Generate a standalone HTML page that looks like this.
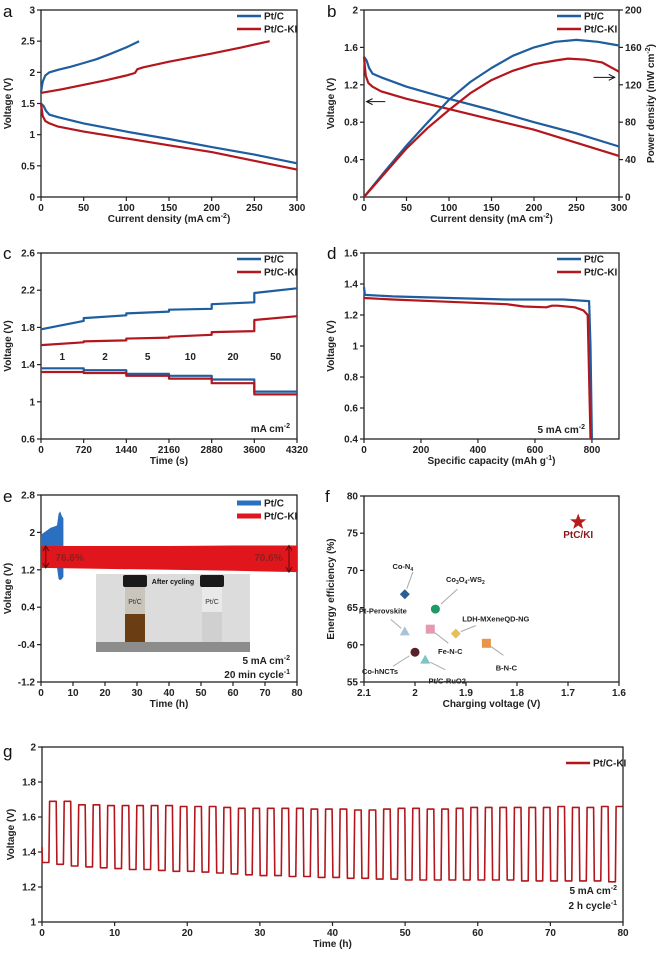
<!DOCTYPE html>
<html><head><meta charset="utf-8">
<style>
html,body{margin:0;padding:0;background:#fff;}
svg{display:block;font-family:"Liberation Sans",Arial,sans-serif;}
.t{font-size:10px;font-weight:bold;fill:#222;}
.ti{font-size:10px;font-weight:bold;fill:#222;}
.lg{font-size:10px;font-weight:bold;fill:#222;}
.pl{font-size:17px;fill:#111;}
</style></head>
<body>
<svg id="fig" width="659" height="957" viewBox="0 0 659 957" xmlns="http://www.w3.org/2000/svg"></svg>
<script>
// ---------- DATA ----------
// panel a
const aPtcChargeX=[0,2,5,10,20,35,50,65,80,100,115];
const aPtcChargeY=[1.68,1.85,1.95,2.0,2.04,2.09,2.15,2.21,2.29,2.4,2.5];
const aKiChargeX=[0,25,50,75,100,110,113,120,150,200,235,268];
const aKiChargeY=[1.67,1.73,1.8,1.87,1.95,1.99,2.05,2.08,2.17,2.3,2.4,2.5];
const aPtcDisX=[0,3,6,10,20,50,100,150,200,250,300];
const aPtcDisY=[1.5,1.46,1.38,1.32,1.28,1.18,1.05,0.93,0.8,0.68,0.54];
const aKiDisX=[0,2,5,10,20,50,100,150,200,250,300];
const aKiDisY=[1.5,1.3,1.22,1.18,1.13,1.05,0.94,0.83,0.72,0.58,0.44];
// panel b
const bPtcPowX=[0,25,50,75,100,125,150,175,200,225,250,275,300];
const bPtcPowY=[0,28,55,80,104,123,138,151,160,166,168,166,162];
const bKiPowX=[0,25,50,75,100,125,150,175,200,225,240,260,280,300];
const bKiPowY=[0,26,52,74,93,111,125,135,142,146,148,147,144,134];
// panel c (step boundaries)
const cTimes=[0,720,1440,2160,2880,3600,4320];
const cRates=["1","2","5","10","20","50"];
const cPtcChgStart=[1.78,1.90,1.95,1.99,2.05,2.17];
const cPtcChgEnd=[1.87,1.93,1.97,2.00,2.07,2.22];
const cKiChgStart=[1.61,1.65,1.68,1.70,1.75,1.88];
const cKiChgEnd=[1.64,1.66,1.69,1.72,1.76,1.92];
const cPtcDis=[1.36,1.34,1.30,1.28,1.24,1.11];
const cKiDis=[1.32,1.31,1.28,1.25,1.20,1.08];
// panel d
const dPtcX=[0,3,100,300,500,700,790,795,800];
const dPtcY=[1.38,1.33,1.32,1.31,1.30,1.30,1.29,1.0,0.4];
const dKiX=[0,100,300,500,560,640,660,680,740,770,785,790,795];
const dKiY=[1.31,1.30,1.285,1.27,1.255,1.25,1.26,1.26,1.25,1.23,1.2,0.8,0.4];
// panel e
const eKiT=[0,20,40,60,80];
const eKiTop=[1.71,1.71,1.71,1.72,1.72];
const eKiBot=[1.24,1.22,1.2,1.18,1.15];
const ePtcT=[0,1,2,3,4,5,5.5,6,6.5,7];
const ePtcTop=[1.95,2.0,2.05,2.1,2.12,2.15,2.4,2.45,2.35,2.3];
const ePtcBot=[1.45,1.4,1.38,1.35,1.3,1.25,1.0,0.98,1.0,1.05];
// panel f
const fNames=["Co-N4","Co3O4-WS2","Pt-Perovskite","Fe-N-C","LDH-MXeneQD-NG","B-N-C","Co-hNCTs","Pt/C-RuO2","PtC/KI"];
const fVolt=[2.02,1.96,2.02,1.97,1.92,1.86,2.0,1.98,1.68];
const fEff=[66.8,64.8,61.8,62.1,61.5,60.2,59.0,58.0,76.5];
// panel g (40 cycles, 2 h each)
const gDis=[1.34,1.33,1.32,1.315,1.31,1.305,1.3,1.3,1.295,1.29,1.29,1.285,1.28,1.275,1.27,1.265,1.265,1.26,1.26,1.255,1.255,1.25,1.25,1.245,1.245,1.24,1.24,1.24,1.24,1.24,1.24,1.24,1.24,1.235,1.235,1.235,1.235,1.235,1.235,1.23];
const gChg=[1.69,1.69,1.67,1.67,1.665,1.665,1.665,1.665,1.665,1.66,1.66,1.66,1.655,1.65,1.65,1.65,1.65,1.65,1.645,1.645,1.645,1.64,1.64,1.645,1.65,1.65,1.645,1.645,1.65,1.655,1.655,1.655,1.655,1.655,1.655,1.66,1.655,1.655,1.66,1.66];

// ---------- HELPERS ----------
const NS="http://www.w3.org/2000/svg";
const svg=document.getElementById('fig');
const BLUE="#1e5d9e", RED="#b3161c";
function el(tag,attrs,parent,text){const e=document.createElementNS(NS,tag);for(const k in attrs)e.setAttribute(k,attrs[k]);if(text!==undefined)e.textContent=text;(parent||svg).appendChild(e);return e;}
function grp(name){const g=document.createElementNS(NS,'g');


svg.appendChild(g);return g;}
function scale(d0,d1,p0,p1){return v=>p0+(v-d0)/(d1-d0)*(p1-p0);}
function frame(P,g,xt,yt,xlab,ylab,ytitle,xtitle,letter,lx,ly){
  const r=el('rect',{x:P.l,y:P.t,width:P.r-P.l,height:P.b-P.t,fill:'none',stroke:'#222','stroke-width':1.3},g);
  
  
  xt.forEach((v,i)=>{const x=P.x(v);el('line',{x1:x,x2:x,y1:P.b,y2:P.b+4,stroke:'#222','stroke-width':1.2},g);
    const t=el('text',{x:x,y:P.b+14,'text-anchor':'middle',class:'t'},g,xlab[i]);
    
    });
  yt.forEach((v,i)=>{const y=P.y(v);el('line',{x1:P.l-4,x2:P.l,y1:y,y2:y,stroke:'#222','stroke-width':1.2},g);
    const t=el('text',{x:P.l-6,y:y+3.5,'text-anchor':'end',class:'t'},g,ylab[i]);
    
    });
  const yt2=el('text',{x:0,y:0,transform:`translate(${P.ytx||P.l-30},${(P.t+P.b)/2}) rotate(-90)`,'text-anchor':'middle',class:'ti'},g,ytitle);
  
  
  const xt2=el('text',{x:(P.l+P.r)/2,y:P.b+25,'text-anchor':'middle',class:'ti'},g);
  xt2.innerHTML=xtitle;
  
  
  const L=el('text',{x:lx,y:ly,class:'pl'},g,letter);
  
  
}
function line(P,xs,ys,color,g,name,w){
  const d=xs.map((x,i)=>(i?'L':'M')+P.x(x).toFixed(1)+','+P.y(ys[i]).toFixed(1)).join('');
  const p=el('path',{d:d,fill:'none',stroke:color,'stroke-width':w||2.2,'stroke-linejoin':'round'},g);
  
  
  return p;
}
function legend(g,x,y,items){
  items.forEach((it,i)=>{const yy=y+i*13;
    const l=el('line',{x1:x,x2:x+24,y1:yy,y2:yy,stroke:it[1],'stroke-width':it[2]||2.5},g);
    
    
    const t=el('text',{x:x+27,y:yy+3.5,class:'lg'},g,it[0]);
    
    });
}
const ticks=(a,b,s)=>{const r=[];for(let v=a;v<=b+1e-9;v+=s)r.push(+v.toFixed(4));return r;};
const fmt=v=>String(+v.toFixed(2));

// ---------- PANEL A ----------
(function(){
const g=grp('panel-a');
const P={l:41,r:297,t:10,b:197};P.x=scale(0,300,P.l,P.r);P.y=scale(0,3,P.b,P.t);
const xt=ticks(0,300,50),yt=ticks(0,3,0.5);
frame(P,g,xt,yt,xt.map(fmt),yt.map(fmt),'Voltage (V)','Current density (mA cm<tspan font-size="7" dy="-4">-2</tspan><tspan dy="4">)</tspan>','a',3,17);
line(P,aPtcChargeX,aPtcChargeY,BLUE,g,'ptc-charge-line');
line(P,aKiChargeX,aKiChargeY,RED,g,'ptc-ki-charge-line');
line(P,aPtcDisX,aPtcDisY,BLUE,g,'ptc-discharge-line');
line(P,aKiDisX,aKiDisY,RED,g,'ptc-ki-discharge-line');
legend(g,237,16,[['Pt/C',BLUE],['Pt/C-KI',RED]]);
})();

// ---------- PANEL B ----------
(function(){
const g=grp('panel-b');
const P={l:364,r:619,t:10,b:197};P.x=scale(0,300,P.l,P.r);P.y=scale(0,2,P.b,P.t);
const P2=scale(0,200,P.b,P.t);
const xt=ticks(0,300,50),yt=ticks(0,2,0.4);
frame(P,g,xt,yt,xt.map(fmt),yt.map(fmt),'Voltage (V)','Current density (mA cm<tspan font-size="7" dy="-4">-2</tspan><tspan dy="4">)</tspan>','b',327,17);
const rt=ticks(0,200,40);
rt.forEach(v=>{const y=P2(v);el('line',{x1:P.r,x2:P.r+4,y1:y,y2:y,stroke:'#222','stroke-width':1.2},g);
  const t=el('text',{x:P.r+6,y:y+3.5,class:'t'},g,String(v));
  
  });
const rtt=el('text',{x:0,y:0,transform:`translate(654,${(P.t+P.b)/2}) rotate(-90)`,'text-anchor':'middle',class:'ti'},g);
rtt.innerHTML='Power density (mW cm<tspan font-size="7" dy="-4">-2</tspan><tspan dy="4">)</tspan>';


line(P,aPtcDisX,aPtcDisY,BLUE,g,'ptc-voltage-line');
line(P,aKiDisX,aKiDisY,RED,g,'ptc-ki-voltage-line');
const Q={x:P.x,y:P2};
line(Q,bPtcPowX,bPtcPowY,BLUE,g,'ptc-power-line');
line(Q,bKiPowX,bKiPowY,RED,g,'ptc-ki-power-line');
const ya=P.y(1.02);
el('line',{x1:P.x(25),x2:P.x(3),y1:ya,y2:ya,stroke:'#111','stroke-width':1},g);
el('path',{d:`M${P.x(3)+6},${ya-3}L${P.x(3)},${ya}L${P.x(3)+6},${ya+3}`,fill:'none',stroke:'#111'},g);
const yb=P2(128);
el('line',{x1:P.x(270),x2:P.x(295),y1:yb,y2:yb,stroke:'#111','stroke-width':1},g);
el('path',{d:`M${P.x(295)-6},${yb-3}L${P.x(295)},${yb}L${P.x(295)-6},${yb+3}`,fill:'none',stroke:'#111'},g);
legend(g,557,16,[['Pt/C',BLUE],['Pt/C-KI',RED]]);
})();

// ---------- PANEL C ----------
(function(){
const g=grp('panel-c');
const P={l:41,r:297,t:253,b:439};P.x=scale(0,4320,P.l,P.r);P.y=scale(0.6,2.6,P.b,P.t);
const xt=cTimes,yt=ticks(0.6,2.6,0.4);
frame(P,g,xt,yt,xt.map(String),yt.map(fmt),'Voltage (V)','Time (s)','c',3,259);
function steps(st,en){const xs=[],ys=[];for(let i=0;i<st.length;i++){xs.push(cTimes[i],cTimes[i+1]);ys.push(st[i],en[i]);}return [xs,ys];}
let s=steps(cPtcChgStart,cPtcChgEnd);line(P,s[0],s[1],BLUE,g,'ptc-charge-line');
s=steps(cKiChgStart,cKiChgEnd);line(P,s[0],s[1],RED,g,'ptc-ki-charge-line');
s=steps(cPtcDis,cPtcDis);line(P,s[0],s[1],BLUE,g,'ptc-discharge-line');
s=steps(cKiDis,cKiDis);line(P,s[0],s[1],RED,g,'ptc-ki-discharge-line');
cRates.forEach((r,i)=>{const t=el('text',{x:P.x((cTimes[i]+cTimes[i+1])/2),y:P.y(1.49)+4,'text-anchor':'middle',class:'t'},g,r);
  
  });
const u=el('text',{x:290,y:432,'text-anchor':'end',class:'t'},g);u.innerHTML='mA cm<tspan font-size="7" dy="-4">-2</tspan>';

legend(g,237,259,[['Pt/C',BLUE],['Pt/C-KI',RED]]);
})();

// ---------- PANEL D ----------
(function(){
const g=grp('panel-d');
const P={l:364,r:619,t:253,b:439};P.x=scale(0,895,P.l,P.r);P.y=scale(0.4,1.6,P.b,P.t);
const xt=ticks(0,800,200),yt=ticks(0.4,1.6,0.2);
frame(P,g,xt,yt,xt.map(String),yt.map(fmt),'Voltage (V)','Specific capacity (mAh g<tspan font-size="7" dy="-4">-1</tspan><tspan dy="4">)</tspan>','d',327,259);
line(P,dPtcX,dPtcY,BLUE,g,'ptc-discharge-line');
line(P,dKiX,dKiY,RED,g,'ptc-ki-discharge-line');
const u=el('text',{x:585,y:433,'text-anchor':'end',class:'t'},g);u.innerHTML='5 mA cm<tspan font-size="7" dy="-4">-2</tspan>';

legend(g,557,259,[['Pt/C',BLUE],['Pt/C-KI',RED]]);
})();

// ---------- PANEL E ----------
(function(){
const g=grp('panel-e');
const P={l:41,r:297,t:495,b:682};P.x=scale(0,80,P.l,P.r);P.y=scale(-1.2,2.8,P.b,P.t);
const xt=ticks(0,80,10),yt=ticks(-1.2,2.8,0.8);
frame(P,g,xt,yt,xt.map(String),yt.map(fmt),'Voltage (V)','Time (h)','e',3,502);
function band(T,top,bot,color,name){
  const pts=T.map((t,i)=>P.x(t)+','+P.y(top[i])).concat(T.map((t,i)=>P.x(t)+','+P.y(bot[i])).reverse());
  const p=el('polygon',{points:pts.join(' '),fill:color},g);
  
}
band(ePtcT,ePtcTop,ePtcBot,'#2a6fc0','ptc-cycling-band');
band(eKiT,eKiTop,eKiBot,'#e0161c','ptc-ki-cycling-band');
[[1.5,'76.6%',eKiTop[0],eKiBot[0],P.x(4.5),'start'],[77.5,'70.6%',eKiTop[4],eKiBot[4],P.x(75.5),'end']].forEach(a=>{
  const x=P.x(a[0]);
  el('line',{x1:x,x2:x,y1:P.y(a[2]),y2:P.y(a[3]),stroke:'#5a0a0a','stroke-width':1},g);
  el('path',{d:`M${x-3},${P.y(a[2])+5}L${x},${P.y(a[2])}L${x+3},${P.y(a[2])+5}M${x-3},${P.y(a[3])-5}L${x},${P.y(a[3])}L${x+3},${P.y(a[3])-5}`,fill:'none',stroke:'#5a0a0a'},g);
  const t=el('text',{x:a[4],y:P.y(1.45)+3,'text-anchor':a[5],'font-size':'10','font-weight':'bold',fill:'#8a2020'},g,a[1]);
  
});
const ph=grp('photo-inset');
el('rect',{x:96,y:574,width:154,height:78,fill:'#dcdcdc'},ph);
el('rect',{x:96,y:642,width:154,height:10,fill:'#8c8c8c'},ph);
el('rect',{x:123,y:575,width:24,height:12,fill:'#1a1a1a',rx:2},ph);
el('rect',{x:125,y:587,width:20,height:55,fill:'#c9c4bc'},ph);
el('rect',{x:125,y:614,width:20,height:28,fill:'#6a3e12'},ph);
el('rect',{x:200,y:575,width:24,height:12,fill:'#1a1a1a',rx:2},ph);
el('rect',{x:202,y:587,width:20,height:55,fill:'#e9e9e9'},ph);
el('rect',{x:202,y:612,width:20,height:30,fill:'#d0d0d0'},ph);
const ac=el('text',{x:173,y:584,'text-anchor':'middle','font-size':'7','font-weight':'bold',fill:'#111'},ph,'After cycling');

el('text',{x:135,y:604,'text-anchor':'middle','font-size':'7',fill:'#333'},ph,'Pt/C');
el('text',{x:212,y:604,'text-anchor':'middle','font-size':'7',fill:'#333'},ph,'Pt/C');
const u=el('text',{x:290,y:664,'text-anchor':'end',class:'t'},g);u.innerHTML='5 mA cm<tspan font-size="7" dy="-4">-2</tspan>';

const u2=el('text',{x:290,y:678,'text-anchor':'end',class:'t'},g);u2.innerHTML='20 min cycle<tspan font-size="7" dy="-4">-1</tspan>';

legend(g,237,503,[['Pt/C','#2a6fc0',5],['Pt/C-KI','#e0161c',5]]);
})();

// ---------- PANEL F ----------
(function(){
const g=grp('panel-f');
const P={l:364,r:619,t:496,b:682};P.x=scale(2.1,1.6,P.l,P.r);P.y=scale(55,80,P.b,P.t);
const xt=ticks(1.6,2.1,0.1).reverse(),yt=ticks(55,80,5);
frame(P,g,xt,yt,xt.map(fmt),yt.map(String),'Energy efficiency (%)','Charging voltage (V)','f',325,502);
const colors=['#2b5e93','#1e9a64','#a8c3d8','#e69ab0','#e4c05a','#e9944a','#5a1f2b','#7fc4c4','#b71c1c'];
const shapes=['diamond','circle','triangle','square','diamond','square','circle','triangle','star'];
const labOff=[[-2,-25],[30,-27],[-22,-18],[20,25],[40,-12],[20,27],[-35,22],[22,24],[0,16]];
const arrowTo=[[8,-22],[22,-20],[-14,-12],[18,14],[20,-8],[17,12],[-22,14],[20,10],null];
fNames.forEach((n,i)=>{
  const x=P.x(fVolt[i]),y=P.y(fEff[i]),c=colors[i],s=shapes[i];let m;
  if(s==='circle')m=el('circle',{cx:x,cy:y,r:4.5,fill:c},g);
  else if(s==='square')m=el('rect',{x:x-4.5,y:y-4.5,width:9,height:9,fill:c},g);
  else if(s==='diamond')m=el('polygon',{points:`${x},${y-5} ${x+5},${y} ${x},${y+5} ${x-5},${y}`,fill:c},g);
  else if(s==='triangle')m=el('polygon',{points:`${x},${y-5} ${x+5},${y+4} ${x-5},${y+4}`,fill:c},g);
  else{const p=[];for(let k=0;k<10;k++){const r=k%2?3.5:8.5,a=-Math.PI/2+k*Math.PI/5;p.push((x+r*Math.cos(a)).toFixed(1)+','+(y+r*Math.sin(a)).toFixed(1));}
    m=el('polygon',{points:p.join(' '),fill:c},g);}
  
  
  if(arrowTo[i]){const a=arrowTo[i];el('line',{x1:x+a[0]*0.25,y1:y+a[1]*0.25,x2:x+a[0],y2:y+a[1],stroke:'#aaa','stroke-width':1},g);}
  const t=el('text',{x:x+labOff[i][0],y:y+labOff[i][1],'text-anchor':'middle','font-size':i===8?'10':'7.5','font-weight':'bold',fill:i===8?'#8a1a1a':'#222'},g);
  if(n==='Co-N4')t.innerHTML='Co-N<tspan font-size="5" dy="2">4</tspan>';
  else if(n==='Co3O4-WS2')t.innerHTML='Co<tspan font-size="5" dy="2">3</tspan><tspan dy="-2">O</tspan><tspan font-size="5" dy="2">4</tspan><tspan dy="-2">-WS</tspan><tspan font-size="5" dy="2">2</tspan>';
  else t.textContent=n;
  
});
})();

// ---------- PANEL G ----------
(function(){
const g=grp('panel-g');
const P={l:42,r:623,t:747,b:922,ytx:14};P.x=scale(0,80,P.l,P.r);P.y=scale(1,2,P.b,P.t);
const xt=ticks(0,80,10),yt=ticks(1,2,0.2);
frame(P,g,xt,yt,xt.map(String),yt.map(fmt),'Voltage (V)','Time (h)','g',3,757);
const xs=[0],ys=[1.43];
gDis.forEach((d,i)=>{const t0=2*i;xs.push(t0+0.05,t0+0.95,t0+1.05,t0+1.95,t0+2.05);ys.push(d,d,gChg[i],gChg[i],gDis[i+1]!==undefined?gDis[i+1]:d);});
xs.pop();ys.pop();
line(P,xs,ys,RED,g,'ptc-ki-cycling-line',1.6);
const u=el('text',{x:617,y:894,'text-anchor':'end',class:'t'},g);u.innerHTML='5 mA cm<tspan font-size="7" dy="-4">-2</tspan>';

const u2=el('text',{x:617,y:909,'text-anchor':'end',class:'t'},g);u2.innerHTML='2 h cycle<tspan font-size="7" dy="-4">-1</tspan>';

legend(g,566,763,[['Pt/C-KI',RED]]);
})();
</script>
</body></html>
